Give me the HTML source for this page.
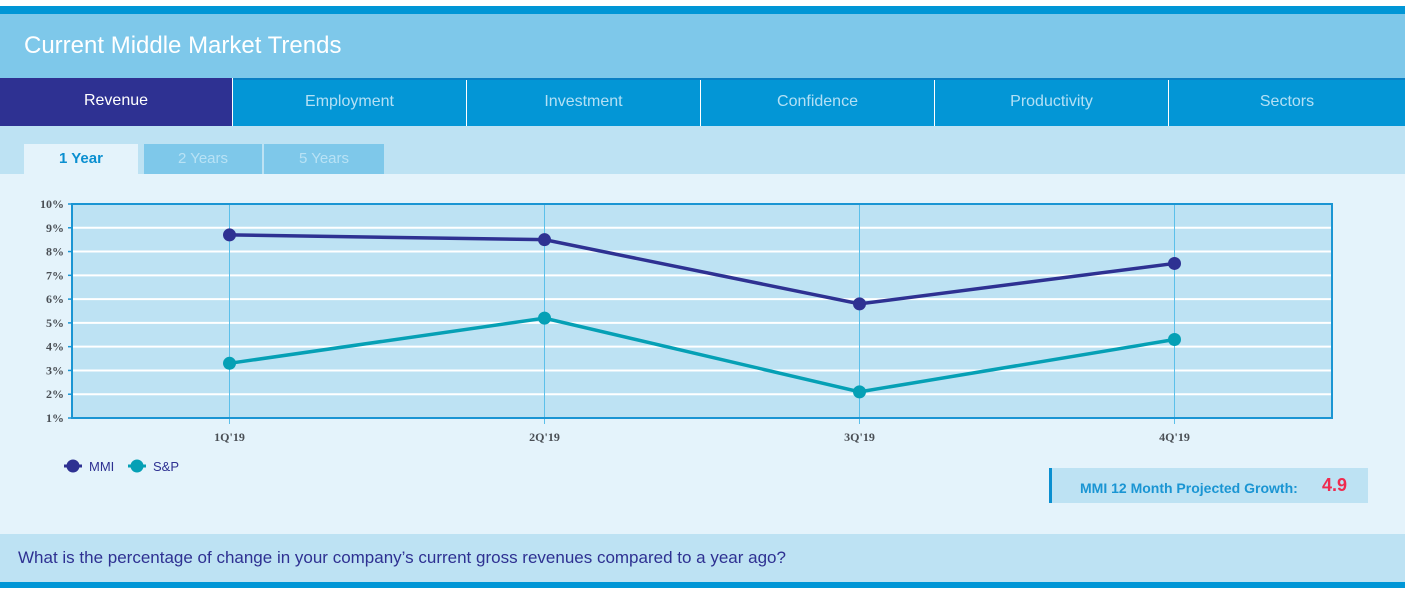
<!DOCTYPE html>
<html><head><meta charset="utf-8"><style>
body{margin:0;width:1405px;height:590px;position:relative;background:#fff;font-family:"Liberation Sans",sans-serif;overflow:hidden}
.a{position:absolute}
.tab{position:absolute;top:80px;height:46px;line-height:44px;text-align:center;color:#b3e0f5;font-size:16px;background:#0396d6;border-right:1px solid #fff;box-sizing:border-box}
.sub{position:absolute;top:144px;height:30px;line-height:30px;text-align:center;font-size:15px;color:#b8e2f5;background:#7ec8ea}
</style></head><body>
<div class="a" style="left:0;top:6px;width:1405px;height:8px;background:#0096d6"></div>
<div class="a" style="left:0;top:14px;width:1405px;height:64px;background:#7ec8ea"></div>
<div class="a" style="left:24px;top:32px;color:#fff;font-size:24px">Current Middle Market Trends</div>
<div class="a" style="left:0;top:78px;width:1405px;height:2px;background:#0a7fc4"></div>
<div class="tab" style="left:0;width:233px;background:#2e3192;color:#fff;top:78px;height:48px;line-height:46px">Revenue</div>
<div class="tab" style="left:233px;width:234px">Employment</div>
<div class="tab" style="left:467px;width:234px">Investment</div>
<div class="tab" style="left:701px;width:234px">Confidence</div>
<div class="tab" style="left:935px;width:234px">Productivity</div>
<div class="tab" style="left:1169px;width:236px;border-right:none">Sectors</div>
<div class="a" style="left:0;top:126px;width:1405px;height:48px;background:#bde2f3"></div>
<div class="sub" style="left:24px;width:114px;background:#e4f3fb;color:#0a8fd0;font-weight:bold">1 Year</div>
<div class="sub" style="left:144px;width:118px">2 Years</div>
<div class="sub" style="left:264px;width:120px">5 Years</div>
<div class="a" style="left:0;top:174px;width:1405px;height:360px;background:#e4f3fb"></div>
<svg class="a" style="left:0;top:0" width="1405" height="590" id="chart"></svg>
<div class="a" style="left:1049px;top:468px;width:319px;height:35px;background:#bde2f3;border-left:3px solid #0a8fd0;box-sizing:border-box"></div>
<div class="a" style="left:1080px;top:480px;font-size:14px;font-weight:bold;color:#1a95d3">MMI 12 Month Projected Growth:</div>
<div class="a" style="left:1322px;top:475px;font-size:18px;font-weight:bold;color:#ef2b4f">4.9</div>
<div class="a" style="left:0;top:534px;width:1405px;height:48px;background:#bde2f3"></div>
<div class="a" style="left:18px;top:548px;font-size:17px;color:#2e3192">What is the percentage of change in your company’s current gross revenues compared to a year ago?</div>
<div class="a" style="left:0;top:582px;width:1405px;height:6px;background:#0096d6"></div>
<script>
const categories=["1Q'19","2Q'19","3Q'19","4Q'19"];
const mmiValues=[8.7,8.5,5.8,7.5];
const spValues=[3.3,5.2,2.1,4.3];
const yTicks=[1,2,3,4,5,6,7,8,9,10];
const NS="http://www.w3.org/2000/svg",svg=document.getElementById('chart');
const L=72,R=1332,T=204,B=418,yMin=1,yMax=10;
const bw=(R-L)/categories.length;
const x=i=>L+bw*(i+0.5);
const y=v=>B-(v-yMin)/(yMax-yMin)*(B-T);
function mk(tag,at,name){const e=document.createElementNS(NS,tag);for(const k in at)e.setAttribute(k,at[k]);


svg.appendChild(e);return e;}
mk('rect',{x:L,y:T,width:R-L,height:B-T,fill:'#bde2f3'},'plot-area');
yTicks.forEach(v=>{
 if(v>yMin&&v<yMax)mk('line',{x1:L,x2:R,y1:y(v),y2:y(v),stroke:'#fff','stroke-width':2},'gridline');
 mk('line',{x1:L-4,x2:L,y1:y(v),y2:y(v),stroke:'#1a95d3','stroke-width':1.5},'y-tick');
 const t=mk('text',{x:L-8,y:y(v)+4,'text-anchor':'end','font-size':12,'font-weight':'bold','font-family':'Liberation Serif,serif',fill:'#4a4f55'},'y-tick-label');t.textContent=v+'%';
});
categories.forEach((c,i)=>{
 mk('line',{x1:x(i),x2:x(i),y1:T,y2:B+6,stroke:'#5cc0ea','stroke-width':1},'x-gridline');
 const t=mk('text',{x:x(i),y:B+23,'text-anchor':'middle','font-size':12,'font-weight':'bold','font-family':'Liberation Serif,serif',fill:'#4a4f55'},'x-tick-label');t.textContent=c;
});
mk('rect',{x:L,y:T,width:R-L,height:B-T,fill:'none',stroke:'#1a95d3','stroke-width':2},'plot-border');
function series(vals,col,name){
 mk('polyline',{points:vals.map((v,i)=>x(i)+','+y(v)).join(' '),fill:'none',stroke:col,'stroke-width':3.5},name+'-line');
 vals.forEach((v,i)=>mk('circle',{cx:x(i),cy:y(v),r:6.5,fill:col},name+'-point'));
}
series(mmiValues,'#2e3192','mmi');
series(spValues,'#05a0b5','sp');
mk('line',{x1:64,x2:82,y1:466,y2:466,stroke:'#2e3192','stroke-width':3},'legend-mmi-line');
mk('circle',{cx:73,cy:466,r:6.5,fill:'#2e3192'},'legend-mmi-marker');
let t=mk('text',{x:89,y:471,'font-size':13,fill:'#2e3192'},'legend-mmi-label');t.textContent='MMI';
mk('line',{x1:128,x2:146,y1:466,y2:466,stroke:'#05a0b5','stroke-width':3},'legend-sp-line');
mk('circle',{cx:137,cy:466,r:6.5,fill:'#05a0b5'},'legend-sp-marker');
t=mk('text',{x:153,y:471,'font-size':13,fill:'#2e3192'},'legend-sp-label');t.textContent='S&P';
</script>
</body></html>
